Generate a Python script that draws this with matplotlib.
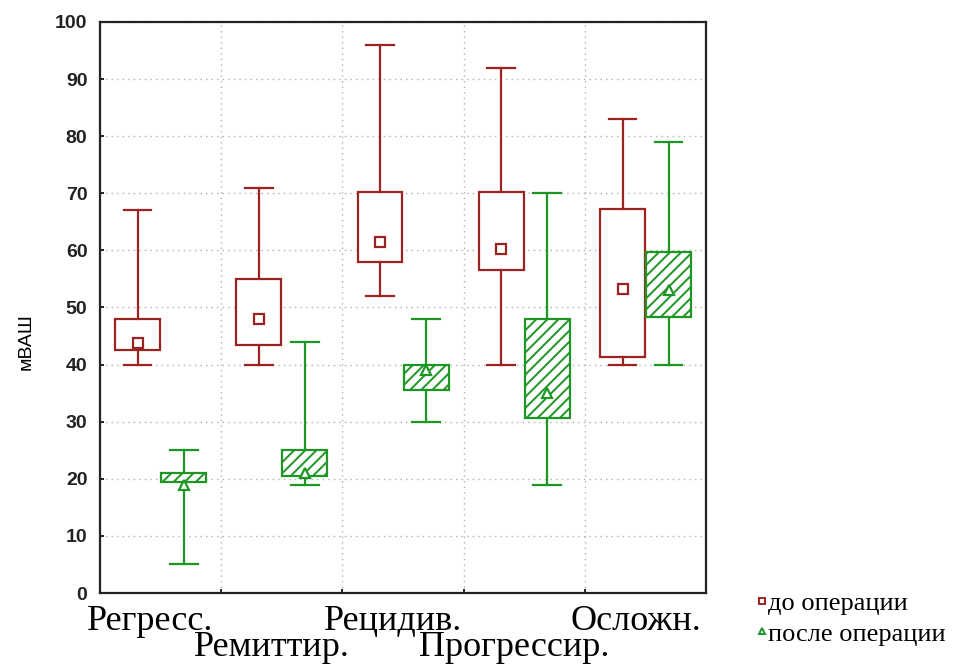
import matplotlib
matplotlib.use("Agg")
import matplotlib.pyplot as plt
from matplotlib.lines import Line2D
from matplotlib.transforms import blended_transform_factory, offset_copy

categories = ["Регресс.", "Ремиттир.", "Рецидив.", "Прогрессир.", "Осложн."]

# до операции
before_low = [40, 40, 52, 40, 40]
before_q1 = [42.5, 43.5, 58, 56.5, 41.3]
before_mid = [43.7, 48, 61.5, 60.2, 53.2]
before_q3 = [48, 55, 70.2, 70.2, 67.2]
before_high = [67, 71, 96, 92, 83]

# после операции
after_low = [5, 19, 30, 19, 40]
after_q1 = [19.4, 20.5, 35.5, 30.6, 48.3]
after_mid = [19, 21, 39, 35, 53]
after_q3 = [21, 25, 40, 48, 59.7]
after_high = [25, 44, 48, 70, 79]

series_names = ["до операции", "после операции"]

RED = "#9B2423"
GREEN = "#1E9624"

plt.rcParams["hatch.linewidth"] = 1.4

fig = plt.figure(figsize=(9.68, 6.66), dpi=100)
ax = fig.add_axes([0.1033, 0.1096, 0.6262, 0.8574])


def stats(low, q1, mid, q3, high):
    return [dict(whislo=a, q1=b, med=c, q3=d, whishi=e, mean=c)
            for a, b, c, d, e in zip(low, q1, mid, q3, high)]


n = len(categories)
off = 0.19
w = 0.37
pos_b = [i - off for i in range(n)]
pos_a = [i + off for i in range(n)]


def draw(st, pos, color, marker, hatch):
    return ax.bxp(st, positions=pos, widths=w, patch_artist=True,
                  showmeans=True, showfliers=False,
                  boxprops=dict(facecolor="white", edgecolor=color, linewidth=1.6, hatch=hatch),
                  whiskerprops=dict(color=color, linewidth=1.6),
                  capprops=dict(color=color, linewidth=1.6),
                  medianprops=dict(visible=False),
                  meanprops=dict(marker=marker, markerfacecolor="white",
                                 markeredgecolor=color, markersize=7, markeredgewidth=1.6),
                  capwidths=w * 0.62, zorder=3)


draw(stats(before_low, before_q1, before_mid, before_q3, before_high), pos_b, RED, "s", None)
draw(stats(after_low, after_q1, after_mid, after_q3, after_high), pos_a, GREEN, "^", "///")

ax.set_xlim(-0.5, n - 0.5)
ax.set_ylim(0, 100)
ax.set_yticks(range(0, 101, 10))
ax.set_xticks([i + 0.5 for i in range(n - 1)])
ax.set_xticklabels([])
ax.grid(True, linestyle=(0, (1, 3)), color="#b0b0b0", linewidth=1.0, zorder=0)
ax.set_axisbelow(True)
for s in ax.spines.values():
    s.set_linewidth(1.6)
    s.set_color("#222222")
ax.tick_params(axis="both", direction="in", length=3, width=1.2)
ax.tick_params(axis="y", labelsize=14, pad=9)
for lab in ax.get_yticklabels():
    lab.set_fontfamily("Liberation Sans")
    lab.set_fontweight("bold")
    lab.set_color("#222222")

ax.set_ylabel("мВАШ", fontsize=14, fontfamily="Liberation Sans")
ax.yaxis.set_label_coords(-0.108, 0.441)

trans = blended_transform_factory(ax.transData, ax.transAxes)
trans = offset_copy(trans, fig=fig, x=-10, y=0, units="dots")
for i, c in enumerate(categories):
    y = -0.064 if i % 2 == 0 else -0.1105
    ax.text(i, y, c, transform=trans, ha="center", va="baseline",
            fontsize=26, fontfamily="Liberation Serif", color="black")

handles = [
    Line2D([], [], linestyle="none", marker="s", markerfacecolor="white",
           markeredgecolor=RED, markersize=5, markeredgewidth=1.4),
    Line2D([], [], linestyle="none", marker="^", markerfacecolor="white",
           markeredgecolor=GREEN, markersize=5, markeredgewidth=1.4),
]
fig.legend(handles, series_names, loc="upper left", bbox_to_anchor=(0.772, 0.127),
           frameon=False, prop=dict(family="Liberation Serif", size=19),
           handlelength=0.3, handletextpad=0.1, labelspacing=0.25, borderaxespad=0)

fig.savefig("out.png", dpi=100)
